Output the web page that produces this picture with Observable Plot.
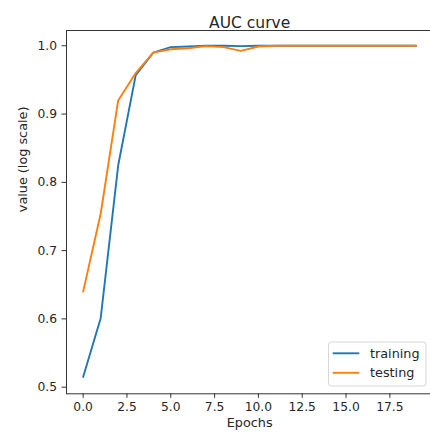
<!DOCTYPE html>
<html>
<head>
<meta charset="utf-8">
<script src="https://cdn.jsdelivr.net/npm/d3@7"></script>
<script src="https://cdn.jsdelivr.net/npm/@observablehq/plot@0.6"></script>
<style>
  html, body { margin: 0; padding: 0; background: #fff; overflow: hidden; }
  #chart { width: 430px; height: 436px; overflow: hidden; }
  #chart svg { display: block; max-width: none !important; width: 433px !important; height: 436px !important; }
</style>
</head>
<body>
<div id="chart"></div>
<script>
// AUC per epoch for the training and testing sets
const epochs = [0, 1, 2, 3, 4, 5, 6, 7, 8, 9, 10, 11, 12, 13, 14, 15, 16, 17, 18, 19];
const training = [0.515, 0.601, 0.825, 0.957, 0.990, 0.998, 0.999, 1.0, 1.0, 0.9995,
                  1.0, 1.0, 1.0, 1.0, 1.0, 1.0, 1.0, 1.0, 1.0, 1.0];
const testing = [0.640, 0.754, 0.920, 0.960, 0.990, 0.995, 0.9965, 0.9995, 0.998, 0.9925,
                 0.999, 1.0, 1.0, 1.0, 1.0, 1.0, 1.0, 1.0, 1.0, 1.0];
const seriesNames = ["training", "testing"];
const seriesColors = ["#1f77b4", "#ff7f0e"];
const xTicks = [0, 2.5, 5, 7.5, 10, 12.5, 15, 17.5];
const yTicks = [0.5, 0.6, 0.7, 0.8, 0.9, 1.0];

const rows = [
  ...epochs.map((e, i) => ({epoch: e, value: training[i], series: seriesNames[0]})),
  ...epochs.map((e, i) => ({epoch: e, value: testing[i], series: seriesNames[1]}))
];

const font = "DejaVu Sans, sans-serif";
const ink = "#262626";

const plot = Plot.plot({
  width: 433,
  height: 436,
  marginLeft: 66,
  marginRight: 0.7,
  marginTop: 30,
  marginBottom: 42.7,
  style: {fontFamily: font, fontSize: "12px", color: ink, background: "#fff"},
  x: {domain: [-0.95, 19.95]},
  y: {domain: [0.4903, 1.0224]},
  color: {domain: seriesNames, range: seriesColors},
  marks: [
    Plot.line(rows, {x: "epoch", y: "value", z: "series", stroke: "series", strokeWidth: 1.9}),
    Plot.frame({stroke: "#333", strokeWidth: 1}),
    Plot.axisX({ticks: xTicks, tickFormat: d3.format(".1f"), tickSize: 4.5, tickPadding: 4,
                label: null, fontSize: 12.3, stroke: "#333"}),
    Plot.axisY({ticks: yTicks, tickFormat: d3.format(".1f"), tickSize: 4.5, tickPadding: 5,
                label: null, fontSize: 12.3, stroke: "#333"}),
    Plot.text(["AUC curve"], {frameAnchor: "top", dy: -13.3, fontSize: 15.5, fill: ink}),
    Plot.text(["Epochs"], {frameAnchor: "bottom", dy: 33.4, fontSize: 12.8, fill: ink}),
    Plot.text(["value (log scale)"], {frameAnchor: "left", dx: -43.3, rotate: -90, fontSize: 12.8, fill: ink})
  ]
});

// Legend in the lower right corner of the axes
const svg = d3.select(plot);
const legend = svg.append("g")
  .attr("font-family", font).attr("font-size", 12.8).attr("fill", ink)
  .attr("text-anchor", "start");
legend.append("rect")
  .attr("x", 328.5).attr("y", 342).attr("width", 97.5).attr("height", 44)
  .attr("rx", 3).attr("fill", "#fff").attr("fill-opacity", 0.8)
  .attr("stroke", "#d6d6d6").attr("stroke-width", 1);
seriesNames.forEach((name, i) => {
  const y = 353.3 + i * 19.5;
  legend.append("line")
    .attr("x1", 332.7).attr("x2", 359.3).attr("y1", y).attr("y2", y)
    .attr("stroke", seriesColors[i]).attr("stroke-width", 1.9);
  legend.append("text")
    .attr("x", 370).attr("y", y).attr("dy", "0.35em").text(name);
});

document.getElementById("chart").appendChild(plot);
</script>
</body>
</html>
